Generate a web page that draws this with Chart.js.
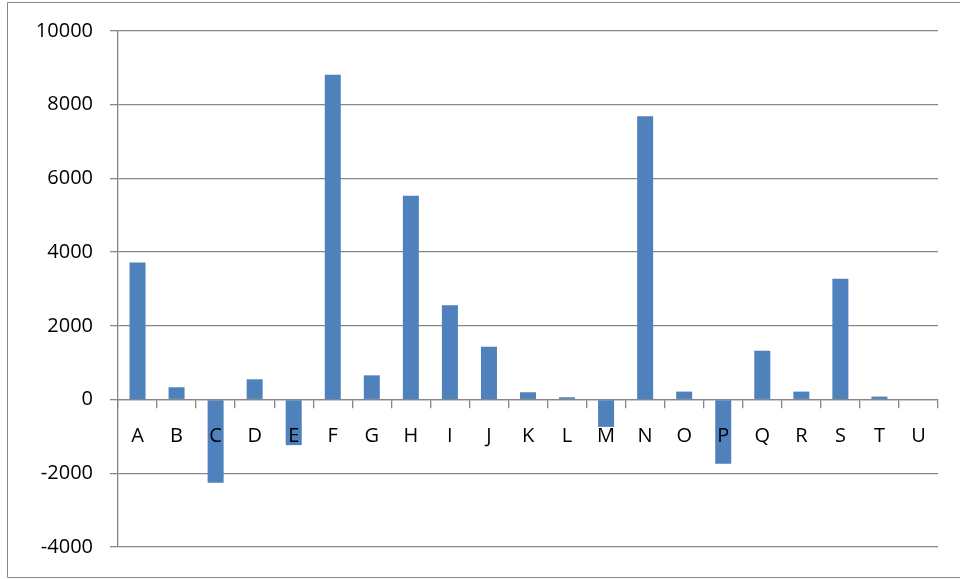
<!DOCTYPE html>
<html>
<head>
<meta charset="utf-8">
<script src="https://cdn.jsdelivr.net/npm/chart.js@4/dist/chart.umd.min.js"></script>
<style>
html,body{margin:0;padding:0;background:#fff;}
#wrap{width:960px;height:579px;position:relative;}
</style>
</head>
<body>
<div id="wrap"><canvas id="chart" width="960" height="579"></canvas></div>
<script>
const categories = ["A","B","C","D","E","F","G","H","I","J","K","L","M","N","O","P","Q","R","S","T","U"];
const values = [3720, 334, -2255, 550, -1236, 8814, 658, 5530, 2562, 1434, 198, 63, -740, 7686, 216, -1741, 1326, 216, 3275, 81, 0];
const yTicks = [-4000, -2000, 0, 2000, 4000, 6000, 8000, 10000];

const gridGray = "#868686";

// outer frame of the picture
const framePlugin = {
  id: "frame",
  afterDraw(chart){
    const ctx = chart.ctx;
    ctx.save();
    ctx.strokeStyle = gridGray;
    ctx.lineWidth = 1;
    ctx.beginPath();
    ctx.moveTo(960, 2.5);
    ctx.lineTo(7.5, 2.5);
    ctx.lineTo(7.5, 577.5);
    ctx.lineTo(960, 577.5);
    ctx.stroke();
    ctx.restore();
  }
};

new Chart(document.getElementById("chart"), {
  type: "bar",
  data: {
    labels: categories,
    datasets: [{
      data: values,
      backgroundColor: "#4F81BD",
      borderWidth: 0,
      barPercentage: 0.41,
      categoryPercentage: 1
    }]
  },
  options: {
    responsive: false,
    animation: false,
    layout: {padding: {left: 8, top: 31, right: 22, bottom: 32}},
    plugins: {legend: {display: false}, tooltip: {enabled: false}},
    scales: {
      x: {
        position: {y: 0},
        offset: true,
        grid: {
          offset: true,
          drawOnChartArea: false,
          drawTicks: true,
          tickLength: 8,
          color: gridGray,
          lineWidth: 1.3,
          z: 1
        },
        border: {display: true, color: gridGray, width: 1.3, z: 1},
        ticks: {
          z: 2,
          color: "#000",
          padding: 17,
          maxRotation: 0,
          autoSkip: false,
          font: {family: "Open Sans", size: 20}
        }
      },
      y: {
        min: -4000,
        max: 10000,
        afterBuildTicks(scale){
          scale.ticks = yTicks.map(v => ({value: v}));
        },
        afterFit(scale){
          scale.width = 110;
        },
        grid: {
          color: gridGray,
          lineWidth: 1.3,
          drawTicks: true,
          tickLength: 8
        },
        border: {display: true, color: gridGray, width: 1.3},
        ticks: {
          color: "#000",
          padding: 17,
          font: {family: "Open Sans", size: 20},
          callback: v => String(v)
        }
      }
    }
  },
  plugins: [framePlugin]
});
</script>
</body>
</html>
